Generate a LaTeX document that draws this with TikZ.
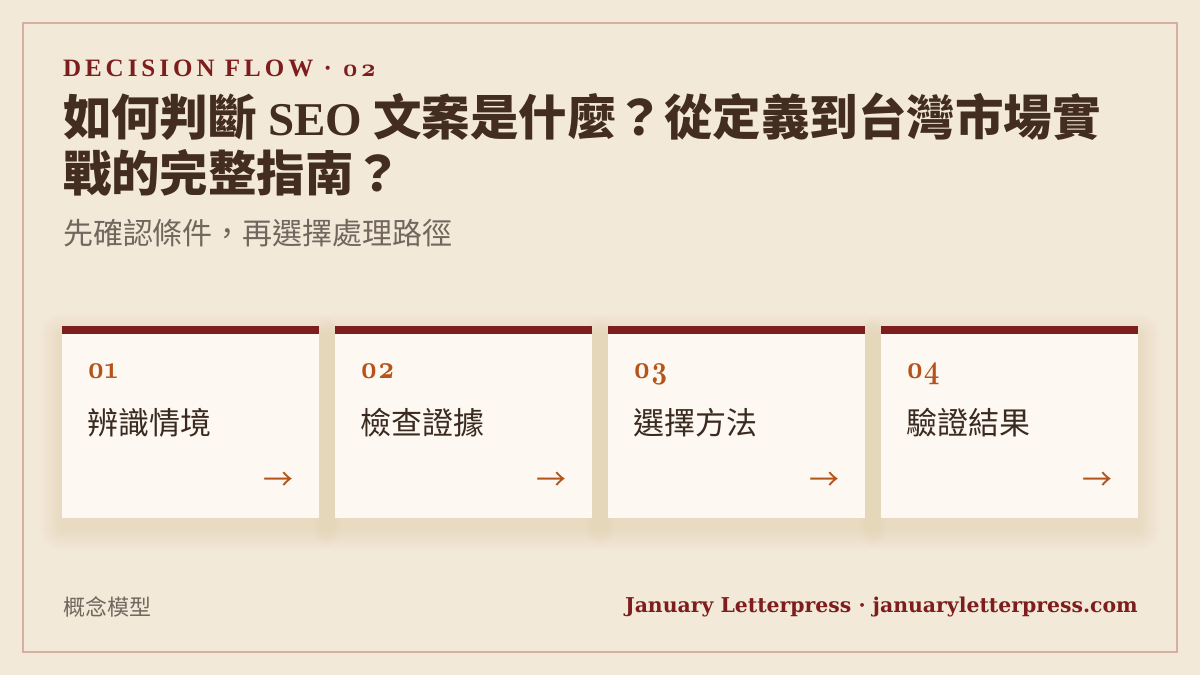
\documentclass[tikz,border=0pt]{standalone}
\usepackage{fontspec}
\setmainfont{Liberation Serif}
\newfontfamily\cjk{Noto Sans CJK TC}
\newfontfamily\osf{lmroman10-bold}[Extension=.otf, Numbers=OldStyle]
\newfontfamily\hdr{Liberation Serif}[LetterSpace=16]
\newfontfamily\hdrosf{lmroman10-bold}[Extension=.otf, Numbers=OldStyle, LetterSpace=8]
\newfontfamily\dvs{DejaVu Serif}
\definecolor{bgc}{RGB}{243,233,216}
\definecolor{framec}{RGB}{214,175,160}
\definecolor{cardc}{RGB}{253,249,242}
\definecolor{barc}{RGB}{126,29,29}
\definecolor{titlec}{RGB}{66,45,32}
\definecolor{subc}{RGB}{114,102,94}
\definecolor{numc}{RGB}{181,84,26}
\definecolor{labc}{RGB}{58,42,32}
\definecolor{shadc}{RGB}{130,100,55}
\begin{document}
\begin{tikzpicture}[x=1pt,y=-1pt,
  txt/.style={inner sep=0pt, outer sep=0pt, anchor=base west},
  cardbox/.style={fill=cardc, draw=none, inner sep=0pt, minimum width=257pt, minimum height=192pt, anchor=north west},
  shadowlayer/.style={fill=shadc, opacity=0.008},
  numtxt/.style={txt, text=numc, font=\osf\fontsize{27}{27}\selectfont},
  labtxt/.style={txt, text=labc, font=\cjk\fontsize{31}{31}\selectfont},
  arrtxt/.style={inner sep=0pt, anchor=center, text=numc, font=\cjk\fontsize{30}{30}\selectfont}]
\useasboundingbox (0,0) rectangle (1200,675);
\fill[bgc] (0,0) rectangle (1200,675);
\draw[framec, line width=2pt] (23,23) rectangle (1177,652);

\node[txt, text=barc, font=\hdr\bfseries\fontsize{25}{25}\selectfont] (head) at (63,76)
  {DECISION FLOW · {\hdrosf 02}};
\node[txt, text=titlec, font=\cjk\bfseries\fontsize{48.5}{48.5}\selectfont] (title1) at (63,135)
  {如何判斷 {\rmfamily\bfseries\fontsize{47}{47}\selectfont SEO} 文案是什麼？從定義到台灣市場實};
\node[txt, text=titlec, font=\cjk\bfseries\fontsize{48.5}{48.5}\selectfont] (title2) at (63,191)
  {戰的完整指南？};
\node[txt, text=subc, font=\cjk\fontsize{30}{30}\selectfont] (sub) at (63,244)
  {先確認條件，再選擇處理路徑};

\foreach \x in {62,335,608,881}{
  \foreach \s in {2,4,...,22}{
    \fill[shadowlayer, rounded corners=\s pt] (\x-\s,336-\s) rectangle (\x+257+\s,528+\s);
  }
}
\foreach \i/\x/\n/\t in {1/62/01/辨識情境, 2/335/02/檢查證據, 3/608/03/選擇方法, 4/881/04/驗證結果}{
  \node[cardbox] (card\i) at (\x,326) {};
  \fill[barc] (card\i.north west) rectangle ([yshift=-8pt]card\i.north east);
  \node[numtxt] (num\i) at (\x+25,378) {\scalebox{1}[1.2]{\n}};
  \node[labtxt] (lab\i) at (\x+25,434) {\t};
  \node[arrtxt] (arr\i) at (\x+216.5,481) {→};
}

\node[txt, text=subc, font=\cjk\fontsize{22}{22}\selectfont] (foot1) at (63,615) {概念模型};
\node[inner sep=0pt, anchor=base east, text=barc, font=\dvs\bfseries\fontsize{20.4}{20.4}\selectfont] (foot2) at (1138,612)
  {January Letterpress · januaryletterpress.com};
\end{tikzpicture}
\end{document}
